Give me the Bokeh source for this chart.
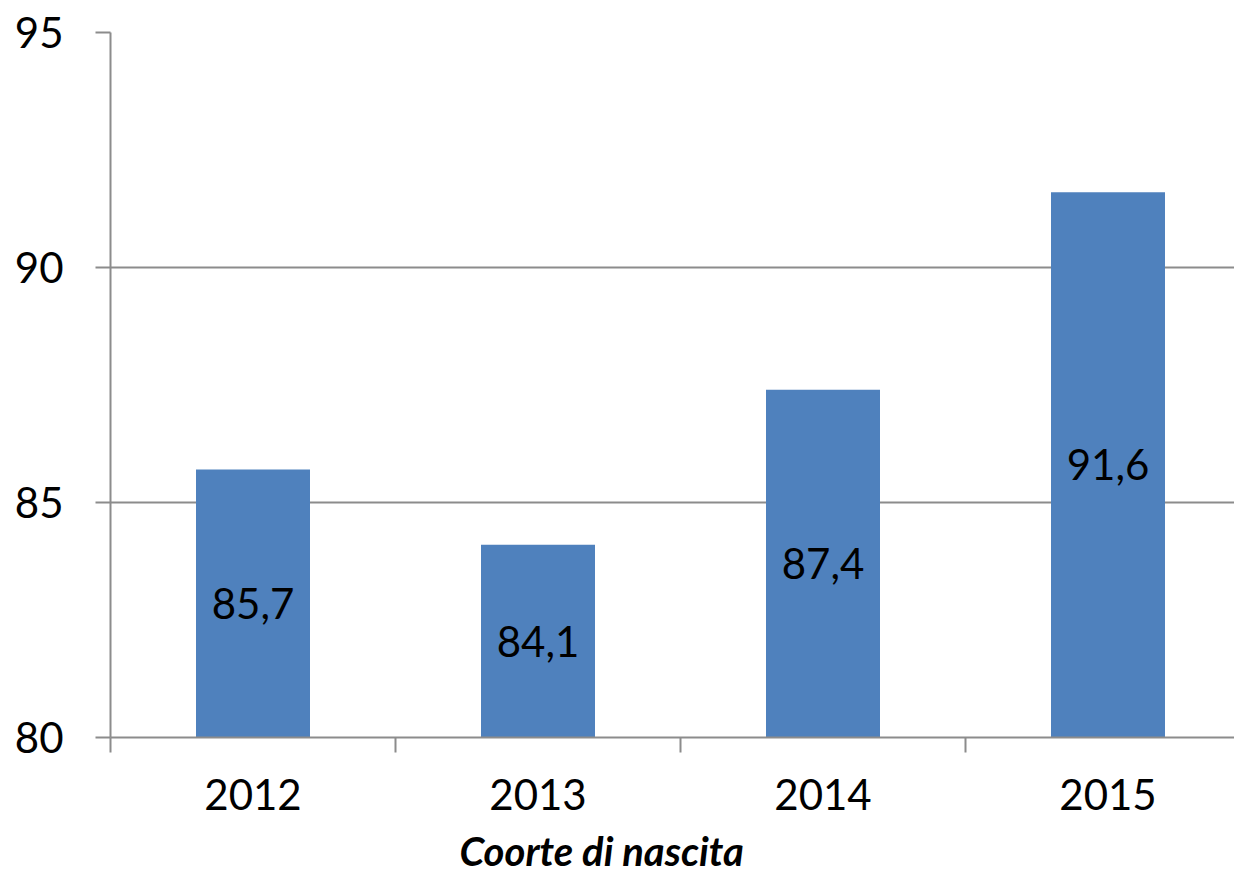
from bokeh.plotting import figure
from bokeh.models import Range1d, FixedTicker, ColumnDataSource, Title
from bokeh.core.properties import value
from bokeh.embed import file_html
from bokeh.resources import INLINE

# Birth cohorts and their values
cohorts = ["2012", "2013", "2014", "2015"]
values = [85.7, 84.1, 87.4, 91.6]
y_ticks = [80, 85, 90, 95]

FONT = "Lato"
GRID = "#8c8c8c"
BAR = "#4F81BD"

centers = [i + 0.5 for i in range(len(cohorts))]
src = ColumnDataSource(dict(
    x=centers,
    top=values,
    mid=[(80 + v) / 2 for v in values],
    lab=[f"{v:.1f}".replace(".", ",") for v in values],
))

p = figure(width=1234, height=875, output_backend="svg", toolbar_location=None,
           x_range=Range1d(0, 1124 / 285), y_range=Range1d(80, 95),
           min_border_left=110, min_border_right=0, min_border_top=32,
           min_border_bottom=138)
p.outline_line_color = None
p.background_fill_color = "white"
p.border_fill_color = "white"

p.vbar(x="x", top="top", bottom=80, width=0.4, source=src,
       fill_color=BAR, line_color=None)
p.text(x="x", y="mid", text="lab", source=src, text_align="center",
       text_baseline="middle", text_font=value(FONT), text_font_size="42px",
       text_color="black")

# y axis
p.yaxis.ticker = FixedTicker(ticks=y_ticks)
p.yaxis.major_tick_out = 15
p.yaxis.major_tick_in = 0
p.yaxis.minor_tick_out = 0
p.yaxis.minor_tick_in = 0
p.yaxis.axis_line_color = GRID
p.yaxis.axis_line_width = 2
p.yaxis.major_tick_line_color = GRID
p.yaxis.major_tick_line_width = 2
p.yaxis.major_label_text_font = FONT
p.yaxis.major_label_text_font_size = "42px"
p.yaxis.major_label_text_color = "black"
p.yaxis.major_label_standoff = 32

p.ygrid.ticker = FixedTicker(ticks=y_ticks)
p.ygrid.grid_line_color = GRID
p.ygrid.grid_line_width = 2
p.xgrid.grid_line_color = None

# x axis: labels at category centres, tick marks at category boundaries
p.xaxis.ticker = FixedTicker(ticks=centers, minor_ticks=[0, 1, 2, 3])
p.xaxis.major_label_overrides = {c: lab for c, lab in zip(centers, cohorts)}
p.xaxis.major_tick_out = 0
p.xaxis.major_tick_in = 0
p.xaxis.minor_tick_out = 15
p.xaxis.minor_tick_in = 0
p.xaxis.minor_tick_line_color = GRID
p.xaxis.minor_tick_line_width = 2
p.xaxis.axis_line_color = GRID
p.xaxis.axis_line_width = 2
p.xaxis.major_label_text_font = FONT
p.xaxis.major_label_text_font_size = "42px"
p.xaxis.major_label_text_color = "black"
p.xaxis.major_label_standoff = 26
# blank axis label used as a small spacer above the title
p.xaxis.axis_label = " "
p.xaxis.axis_label_text_font_size = "8px"
p.xaxis.axis_label_standoff = 0

p.add_layout(Title(text="Coorte di nascita", align="left", offset=349,
                   text_font=FONT, text_font_size="40px",
                   text_font_style="bold italic", text_color="black",
                   standoff=0), "below")

open("out.html", "w").write(file_html(p, INLINE))
